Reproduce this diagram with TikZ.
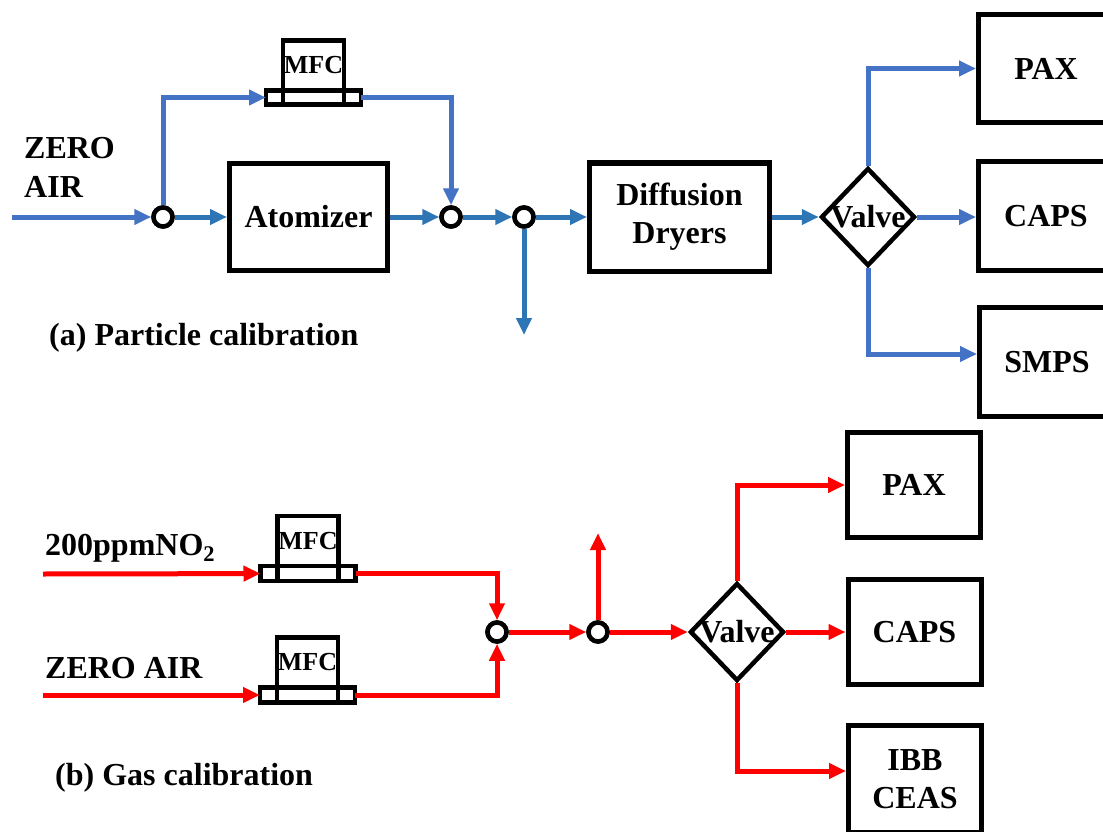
\documentclass[tikz,border=0pt]{standalone}
\usepackage{fontspec}
\setmainfont{Liberation Serif}
\usetikzlibrary{positioning,shapes.geometric,arrows.meta}
\definecolor{pipeblue}{RGB}{68,114,196}
\definecolor{pipedark}{RGB}{46,117,182}
\definecolor{gasred}{RGB}{255,0,0}

\begin{document}
\begin{tikzpicture}[x=1pt,y=-1pt,
  box/.style={draw,line width=5pt,inner sep=0pt,align=center,
    font=\fontsize{32}{38}\selectfont\bfseries},
  bar/.style={draw,line width=4.5pt,fill=white,minimum width=95pt,
    minimum height=14pt,inner sep=0pt,outer sep=0pt},
  mfc/.style={draw,line width=4.5pt,minimum width=61pt,minimum height=50pt,
    inner sep=0pt,outer sep=0pt,font=\fontsize{26}{26}\selectfont\bfseries},
  joint/.style={circle,draw,line width=4.5pt,fill=white,minimum size=19pt,inner sep=0pt},
  valve/.style={diamond,draw,line width=4.5pt,minimum width=94pt,minimum height=98pt,
    inner sep=0pt,label={[font=\fontsize{32}{32}\selectfont\bfseries]center:Valve}},
  pipe/.style={line width=5pt,-{Triangle[length=17pt,width=15pt]}},
  lbl/.style={inner sep=0pt,align=left,font=\fontsize{32}{39}\selectfont\bfseries}]

  \useasboundingbox (0,0) rectangle (1103,832);
  \clip (0,0) rectangle (1103,832);

  % (a) particle calibration
  \coordinate (inA) at (12,217);
  \node[lbl,anchor=north west] (zeroA) at (24,137) {ZERO\\AIR};
  \node[joint] (c1) at (163,217) {};
  \node[box,minimum width=158pt,minimum height=107pt] (atom) at (308.5,217) {Atomizer};
  \node[bar] (mfcA) at (313.5,97.5) {};
  \node[mfc,above=0pt of mfcA] (mfcAtop) {MFC};
  \draw[line width=4.5pt] (mfcAtop.south west) -- (mfcAtop.south west |- mfcA.south);
  \draw[line width=4.5pt] (mfcAtop.south east) -- (mfcAtop.south east |- mfcA.south);
  \node[joint] (c2) at (451,217) {};
  \node[joint] (c3) at (524,217) {};
  \coordinate (ventA) at (524,335);
  \node[box,minimum width=180pt,minimum height=108pt] (dry) at (679.5,217) {Diffusion\\Dryers};
  \node[valve] (valA) at (868,217) {};
  \node[box,minimum width=135pt,minimum height=108pt] (paxA) at (1046,68.5) {PAX};
  \node[box,minimum width=135pt,minimum height=108pt] (capsA) at (1046,216) {CAPS};
  \node[box,minimum width=135pt,minimum height=109pt] (smpsA) at (1047,362) {SMPS};
  \node[lbl,anchor=base west] (capA) at (49,345) {(a) Particle calibration};

  \draw[pipe,pipeblue] (inA) -- (c1);
  \draw[pipe,pipedark] (c1) -- (atom);
  \draw[pipe,pipeblue] (c1) |- (mfcA);
  \draw[pipe,pipeblue] (mfcA) -| (c2);
  \draw[pipe,pipedark] (atom) -- (c2);
  \draw[pipe,pipedark] (c2) -- (c3);
  \draw[pipe,pipedark] (c3) -- (dry);
  \draw[pipe,pipedark] (c3) -- (ventA);
  \draw[pipe,pipedark] (dry) -- (valA);
  \draw[pipe,pipeblue] (valA) |- (paxA);
  \draw[pipe,pipeblue] (valA) -- (valA.east -| capsA.west);
  \draw[pipe,pipeblue] (valA) |- ([yshift=8pt]smpsA.west);
  \node[joint] at (c1) {};
  \node[joint] at (c2) {};
  \node[joint] at (c3) {};

  % (b) gas calibration
  \coordinate (inB) at (43,574);
  \coordinate (inC) at (43,695);
  \node[lbl,anchor=base west] (no2) at (45,555) {200ppmNO\textsubscript{2}};
  \node[lbl,anchor=base west] (zeroB) at (45,678) {ZERO AIR};
  \node[bar,minimum height=15pt] (mfcB) at (308,573.5) {};
  \node[mfc,above=0pt of mfcB] (mfcBtop) {MFC};
  \draw[line width=4.5pt] (mfcBtop.south west) -- (mfcBtop.south west |- mfcB.south);
  \draw[line width=4.5pt] (mfcBtop.south east) -- (mfcBtop.south east |- mfcB.south);
  \node[bar,minimum height=15pt] (mfcC) at (307.5,695) {};
  \node[mfc,above=0pt of mfcC] (mfcCtop) {MFC};
  \draw[line width=4.5pt] (mfcCtop.south west) -- (mfcCtop.south west |- mfcC.south);
  \draw[line width=4.5pt] (mfcCtop.south east) -- (mfcCtop.south east |- mfcC.south);
  \node[joint] (c4) at (497,632) {};
  \node[joint] (c5) at (598,632) {};
  \coordinate (ventB) at (598,533);
  \node[valve] (valB) at (737,632) {};
  \node[box,minimum width=133pt,minimum height=105pt] (paxB) at (914,485) {PAX};
  \node[box,minimum width=133pt,minimum height=105pt] (capsB) at (914.5,632) {CAPS};
  \node[box,minimum width=133pt,minimum height=107pt] (ibbB) at (915,779) {IBB\\CEAS};
  \node[lbl,anchor=base west] (capB) at (55,785) {(b) Gas calibration};

  \draw[pipe,gasred] (inB) -- (mfcB);
  \draw[pipe,gasred] (inC) -- (mfcC);
  \draw[pipe,gasred] (mfcB) -| (c4);
  \draw[pipe,gasred] (mfcC) -| (c4);
  \draw[pipe,gasred] (c4) -- (c5);
  \draw[pipe,gasred] (c5) -- (ventB);
  \draw[pipe,gasred] (c5) -- (valB);
  \draw[pipe,gasred] (valB) |- (paxB);
  \draw[pipe,gasred] (valB) -- (capsB);
  \draw[pipe,gasred] (valB) |- ([yshift=8pt]ibbB.west);
  \node[joint] at (c4) {};
  \node[joint] at (c5) {};

\end{tikzpicture}
\end{document}
